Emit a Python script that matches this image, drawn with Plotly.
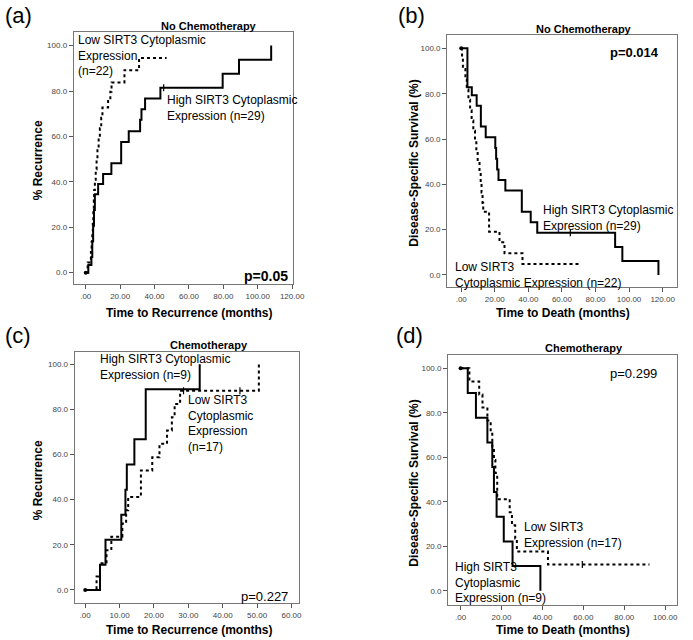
import plotly.graph_objects as go

W, H = 693, 640
FONT = "Arial, Liberation Sans, sans-serif"

# ---------------- data ----------------
# (a) No chemotherapy, % recurrence
a_high_t = [0, 1.5, 3.3, 3.8, 4.3, 4.8, 5.3, 7.2, 10.1, 14.9, 20.6, 25.0, 31.6, 32.4, 34.5, 43.4, 79.6, 89.1, 107.8]
a_high_v = [0, 3.4, 6.9, 13.8, 20.7, 27.6, 34.5, 39.1, 43.5, 48.2, 57.6, 62.3, 67.3, 72.0, 76.7, 81.4, 87.6, 93.8, 100]
a_low_t = [0, 1.1, 3.0, 3.4, 3.8, 4.1, 4.4, 4.7, 4.9, 5.3, 5.8, 6.3, 6.8, 7.5, 8.2, 9.0, 9.7, 13.0, 14.3, 15.0, 22.5, 31.0, 47.0]
a_low_v = [0, 4.5, 9.1, 13.6, 18.2, 22.7, 27.3, 31.8, 36.4, 40.9, 45.5, 50.0, 54.5, 59.1, 63.6, 68.2, 72.7, 75.6, 79.7, 83.8, 89.2, 94.6, 94.6]
a_high_cens_t = [45.3]
a_high_cens_v = [81.4]

# (b) No chemotherapy, disease-specific survival
b_high_t = [0, 3.7, 6.3, 9.2, 11.7, 14.6, 20.3, 20.8, 21.4, 22.2, 26.3, 36.1, 41.4, 45.3, 91.7, 96.0, 117.5]
b_high_v = [100, 82.8, 79.3, 74.7, 65.5, 60.8, 56.0, 51.3, 46.6, 41.9, 37.3, 27.9, 23.3, 18.6, 12.4, 6.2, 0]
b_low_t = [0, 0.5, 1.0, 2.5, 3.3, 4.3, 5.3, 6.2, 7.2, 8.2, 9.0, 9.8, 10.9, 11.6, 12.1, 12.7, 13.1, 16.6, 22.8, 25.8, 36.5, 70.0]
b_low_v = [100, 95.5, 90.9, 86.4, 81.8, 77.3, 72.7, 68.2, 63.6, 59.1, 54.5, 50.0, 45.5, 40.9, 36.4, 31.8, 27.9, 19.1, 14.4, 9.6, 4.8, 4.8]
b_high_cens_t = [65.0]
b_high_cens_v = [18.6]

# (c) Chemotherapy, % recurrence
c_high_t = [0, 4.3, 5.9, 10.5, 11.7, 12.1, 14.3, 17.6, 33.3]
c_high_v = [0, 11.1, 22.2, 33.3, 44.4, 55.6, 66.7, 88.9, 100]
c_low_t = [0, 3.3, 4.3, 6.2, 7.6, 10.8, 11.9, 12.5, 16.2, 19.5, 21.6, 23.8, 25.2, 26.0, 27.6, 50.5]
c_low_v = [0, 5.9, 11.8, 17.6, 23.5, 29.4, 35.3, 41.2, 52.9, 58.8, 64.7, 70.6, 76.5, 82.4, 88.2, 100]
c_low_cens_t = [28.6, 45.0]
c_low_cens_v = [88.2, 88.2]

# (d) Chemotherapy, disease-specific survival
d_high_t = [0, 3.5, 7.5, 13.1, 15.5, 16.3, 17.6, 21.1, 25.4, 39.0]
d_high_v = [100, 88.9, 77.8, 66.7, 55.6, 44.4, 33.3, 22.2, 11.1, 0]
d_low_t = [0, 4.3, 9.1, 10.7, 13.1, 14.7, 15.5, 16.3, 17.0, 17.9, 24.0, 25.1, 26.7, 27.5, 42.7, 92.3]
d_low_v = [100, 94.1, 88.2, 82.4, 76.5, 70.6, 64.7, 58.8, 52.9, 41.2, 35.3, 29.4, 23.5, 17.6, 11.8, 11.8]
d_low_cens_t = [59.5]
d_low_cens_v = [11.8]

y_ticks = [0, 20, 40, 60, 80, 100]
y_ticktext = ["0.0", "20.0", "40.0", "60.0", "80.0", "100.0"]
x_ticks_120 = [0, 20, 40, 60, 80, 100, 120]
x_ticktext_120 = [".00", "20.00", "40.00", "60.00", "80.00", "100.00", "120.00"]
x_ticks_60 = [0, 10, 20, 30, 40, 50, 60]
x_ticktext_60 = [".00", "10.00", "20.00", "30.00", "40.00", "50.00", "60.00"]
x_ticks_100 = [0, 20, 40, 60, 80, 100]
x_ticktext_100 = [".00", "20.00", "40.00", "60.00", "80.00", "100.00"]

# ---------------- figure ----------------
def px(X):
    return X / W

def py(Y):
    return 1 - Y / H

fig = go.Figure()

panels = [
    dict(k="", box=(75, 298, 32, 284), xr=[-7.0, 120.4], yr=[-5.0, 106.0],
         xt=x_ticks_120, xtt=x_ticktext_120,
         high=(a_high_t, a_high_v), low=(a_low_t, a_low_v),
         cens=[(a_high_cens_t, a_high_cens_v)]),
    dict(k="2", box=(455, 689, 35, 287), xr=[-8.4, 128.6], yr=[-5.3, 105.9],
         xt=x_ticks_120, xtt=x_ticktext_120,
         high=(b_high_t, b_high_v), low=(b_low_t, b_low_v),
         cens=[(b_high_cens_t, b_high_cens_v)]),
    dict(k="3", box=(76, 304, 352, 603), xr=[-3.06, 62.1], yr=[-5.8, 105.4],
         xt=x_ticks_60, xtt=x_ticktext_60,
         high=(c_high_t, c_high_v), low=(c_low_t, c_low_v),
         cens=[(c_low_cens_t, c_low_cens_v)]),
    dict(k="4", box=(456, 689, 355, 605), xr=[-6.1, 105.8], yr=[-6.4, 106.0],
         xt=x_ticks_100, xtt=x_ticktext_100,
         high=(d_high_t, d_high_v), low=(d_low_t, d_low_v),
         cens=[(d_low_cens_t, d_low_cens_v)]),
]

axis_common = dict(showgrid=False, zeroline=False, showline=True, mirror=True,
                   linecolor="#777", linewidth=1, ticks="outside", ticklen=4,
                   tickcolor="#555", tickwidth=1,
                   tickfont=dict(family=FONT, size=8, color="#444"))

layout_axes = {}
for p in panels:
    k = p["k"]
    l, r, t, b = p["box"]
    xa = "x" + k
    ya = "y" + k
    layout_axes["xaxis" + k] = dict(axis_common, domain=[px(l), px(r)], range=p["xr"],
                                    tickvals=p["xt"], ticktext=p["xtt"], anchor=ya)
    layout_axes["yaxis" + k] = dict(axis_common, domain=[py(b), py(t)], range=p["yr"],
                                    tickvals=y_ticks, ticktext=y_ticktext, anchor=xa)
    ht, hv = p["high"]
    lt, lv = p["low"]
    fig.add_trace(go.Scatter(x=lt, y=lv, mode="lines", line=dict(shape="hv", color="black", width=2, dash="3px,3px"),
                             xaxis=xa, yaxis=ya, showlegend=False, hoverinfo="skip"))
    fig.add_trace(go.Scatter(x=ht, y=hv, mode="lines", line=dict(shape="hv", color="black", width=2),
                             xaxis=xa, yaxis=ya, showlegend=False, hoverinfo="skip"))
    for ct, cv in p["cens"]:
        fig.add_trace(go.Scatter(x=ct, y=cv, mode="markers",
                                 marker=dict(symbol="line-ns", size=5, line=dict(width=1.2, color="black")),
                                 xaxis=xa, yaxis=ya, showlegend=False, hoverinfo="skip"))
    fig.add_trace(go.Scatter(x=[ht[0]], y=[hv[0]], mode="markers",
                             marker=dict(size=4, color="black"),
                             xaxis=xa, yaxis=ya, showlegend=False, hoverinfo="skip"))

ann = []

def txt(text, x, y, xref="paper", yref="paper", size=12, bold=False, xanchor="left", yanchor="top", angle=0):
    if bold:
        text = "<b>" + text + "</b>"
    if xref == "paper":
        x = px(x)
    if yref == "paper":
        y = py(y)
    ann.append(dict(text=text, x=x, y=y, xref=xref, yref=yref, showarrow=False,
                    xanchor=xanchor, yanchor=yanchor, textangle=angle, align="left",
                    font=dict(family=FONT, size=size, color="black")))

# panel letters
for lab, X, Y in [("(a)", 3, 15), ("(b)", 403, 15), ("(c)", 3, 335), ("(d)", 401, 335)]:
    txt(lab, X, Y, size=22, yanchor="middle")

# titles
for lab, X, Y in [("No Chemotherapy", 213, 26), ("No Chemotherapy", 594, 29),
                  ("Chemotherapy", 213, 345), ("Chemotherapy", 594, 348)]:
    txt(lab, X, Y, size=11, bold=True, xanchor="center", yanchor="middle")

# axis titles
for lab, X, Y in [("Time to Recurrence (months)", 192, 313), ("Time to Death (months)", 573, 313),
                  ("Time to Recurrence (months)", 192, 630), ("Time to Death (months)", 573, 630)]:
    txt(lab, X, Y, size=12, bold=True, xanchor="center", yanchor="middle")
for lab, X, Y in [("% Recurrence", 39, 160), ("Disease-Specific Survival (%)", 421, 163),
                  ("% Recurrence", 39, 480), ("Disease-Specific Survival (%)", 421, 483)]:
    txt(lab, X, Y, size=12, bold=True, xanchor="center", yanchor="middle", angle=-90)

# curve labels (pixel positions, top-left)
txt("Low SIRT3 Cytoplasmic<br>Expression<br>(n=22)", 77, 31)
txt("High SIRT3 Cytoplasmic<br>Expression (n=29)", 168, 91)
txt("High SIRT3 Cytoplasmic<br>Expression (n=29)", 551, 201)
txt("Low SIRT3<br>Cytoplasmic Expression (n=22)", 461, 258)
txt("High SIRT3 Cytoplasmic<br>Expression (n=9)", 100, 350)
txt("Low SIRT3<br>Cytoplasmic<br>Expression<br>(n=17)", 189, 391)
txt("Low SIRT3<br>Expression (n=17)", 531, 518)
txt("High SIRT3<br>Cytoplasmic<br>Expression (n=9)", 461, 558)

# p values
txt("p=0.05", 295, 276, size=14, bold=True, xanchor="right", yanchor="middle")
txt("p=0.014", 673, 53, size=13, bold=True, xanchor="right", yanchor="middle")
txt("p=0.227", 295, 596, size=13, xanchor="right", yanchor="middle")
txt("p=0.299", 671, 373, size=13, xanchor="right", yanchor="middle")

fig.update_layout(width=W, height=H, margin=dict(l=0, r=0, t=0, b=0),
                  paper_bgcolor="white", plot_bgcolor="white",
                  font=dict(family=FONT), annotations=ann, **layout_axes)

fig.write_html("out.html", config={"displayModeBar": False},
               post_script="document.body.style.margin='0px';")
